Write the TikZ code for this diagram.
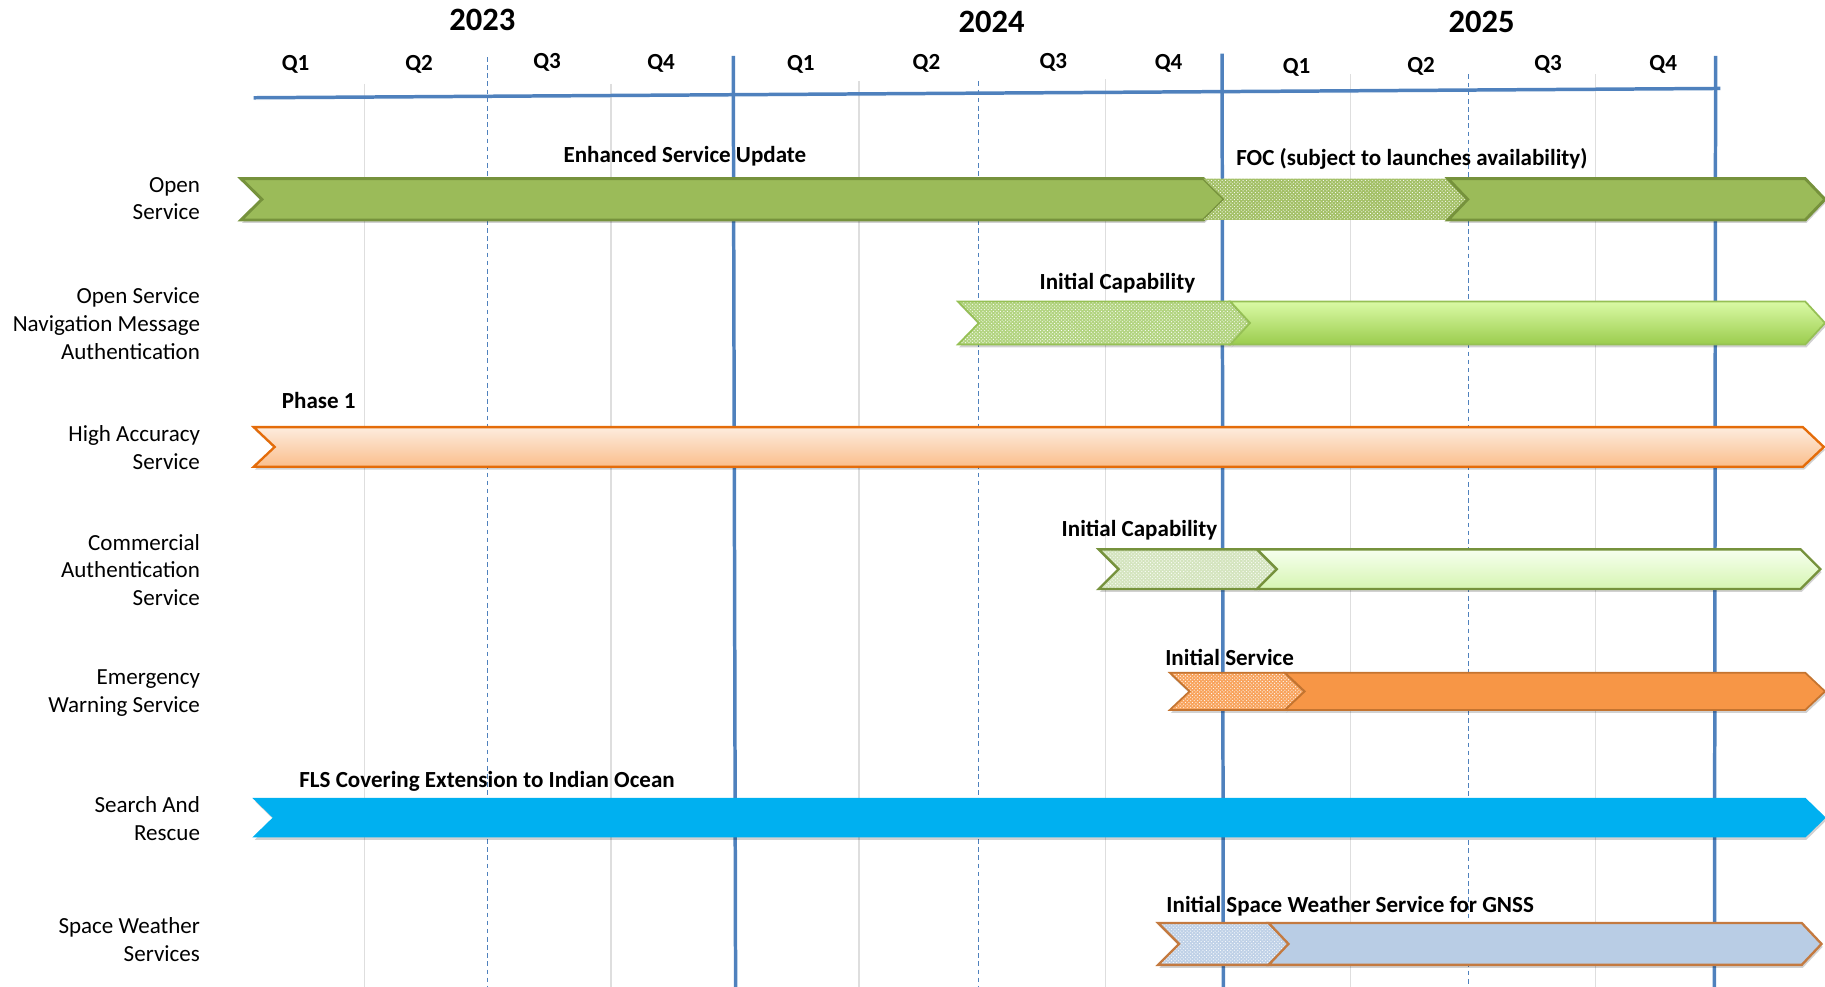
\documentclass[tikz,border=0pt]{standalone}
\usepackage{fontspec}
\setmainfont{Carlito}
\usetikzlibrary{patterns,shadows}

\definecolor{axisblue}{RGB}{79,129,189}
\definecolor{gridgray}{RGB}{222,222,222}
\definecolor{osgreen}{RGB}{155,187,89}
\definecolor{osdark}{RGB}{118,146,60}
\definecolor{nmatop}{RGB}{218,250,165}
\definecolor{nmabot}{RGB}{155,204,78}
\definecolor{nmaline}{RGB}{150,192,85}
\definecolor{nmadots}{RGB}{178,212,128}
\definecolor{hastop}{RGB}{253,236,222}
\definecolor{hasbot}{RGB}{250,190,140}
\definecolor{hasline}{RGB}{228,108,10}
\definecolor{castop}{RGB}{246,255,238}
\definecolor{casbot}{RGB}{214,245,178}
\definecolor{casdots}{RGB}{212,228,190}
\definecolor{ewsfill}{RGB}{247,150,70}
\definecolor{ewsline}{RGB}{196,116,48}
\definecolor{sarfill}{RGB}{0,176,240}
\definecolor{swfill}{RGB}{185,205,229}
\definecolor{swline}{RGB}{196,122,64}

% chevron-shaped bar: [style]{left x}{right x}{top y}{bottom y}{tip depth}
\newcommand{\chevbar}[6][]{%
  \path[#1] (#2,#4) -- (#3,#4) -- ({#3+#6},{(#4+#5)/2}) -- (#3,#5)
    -- (#2,#5) -- ({#2+#6},{(#4+#5)/2}) -- cycle;}

\tikzset{
  txt/.style={font=\fontsize{19.8}{23.7}\selectfont, inner sep=0pt,
    text height=0.68em, text depth=0.18em},
  rowlbl/.style={txt, align=right, anchor=east},
  barlbl/.style={txt, font=\fontsize{19.8}{23.7}\selectfont\bfseries, anchor=west},
  qlbl/.style={txt, font=\fontsize{19.8}{23.7}\selectfont\bfseries},
  yearlbl/.style={txt, font=\fontsize{28}{32}\selectfont\bfseries},
  yearline/.style={draw=axisblue, line width=3pt},
  quarterline/.style={draw=gridgray, line width=1pt},
  halfline/.style={draw=axisblue, line width=0.8pt, dash pattern=on 4pt off 3pt},
  barshadow/.style={drop shadow={shadow xshift=1pt, shadow yshift=-2.5pt,
    opacity=0.18, fill=black}},
  dotted fill/.style={preaction={fill=#1}, pattern=crosshatch dots,
    pattern color=white},
  osbar/.style={barshadow, fill=osgreen, draw=osdark, line width=2.5pt,
    line join=miter},
  oshatch/.style={dotted fill=osgreen!92!white},
  nmabar/.style={barshadow, top color=nmatop, bottom color=nmabot,
    draw=nmaline, line width=1.5pt},
  nmahatch/.style={barshadow, dotted fill=nmadots, draw=nmaline,
    line width=1.5pt},
  hasbar/.style={barshadow, top color=hastop, bottom color=hasbot,
    draw=hasline, line width=2pt},
  casbar/.style={barshadow, top color=castop, bottom color=casbot,
    draw=osdark, line width=2pt},
  cashatch/.style={barshadow, dotted fill=casdots, draw=osdark,
    line width=2pt},
  ewsbar/.style={barshadow, fill=ewsfill, draw=ewsline, line width=1.5pt},
  ewshatch/.style={barshadow, dotted fill=ewsfill!88!white, draw=ewsline,
    line width=1.5pt},
  sarbar/.style={barshadow, fill=sarfill, draw=sarfill, line width=1pt},
  swbar/.style={barshadow, fill=swfill, draw=swline, line width=2pt},
  swhatch/.style={barshadow, dotted fill=swfill!92!white, draw=swline,
    line width=2pt},
}

\begin{document}
\begin{tikzpicture}[x=1pt, y=-1pt]
\useasboundingbox (0,0) rectangle (1568,848);

% quarter grid
\foreach \gx/\gy in {313/72, 525/72, 738/70, 950/68, 1160/64, 1371/64}
  \draw[quarterline] (\gx,\gy) -- (\gx,848);
% mid-year dashed lines
\foreach \gx/\gy in {419/49, 841/70, 1262/64}
  \draw[halfline] (\gx,\gy) -- (\gx,848);
% year boundaries
\draw[yearline] (630,48) -- (632,848);
\draw[yearline] (1050,46) -- (1051,848);
\draw[yearline] (1474,48) -- (1473,848);
% time axis
\draw[yearline, drop shadow={shadow xshift=1pt, shadow yshift=-2pt, opacity=0.15}]
  (218,84) -- (1478,76);

% years
\node[yearlbl] (y23) at (414.5,24) {2023};
\node[yearlbl] (y24) at (852,25) {2024};
\node[yearlbl] (y25) at (1273,25) {2025};

% quarters
\node[qlbl] (q231) at (254,58) {Q1};
\node[qlbl] (q232) at (360,58) {Q2};
\node[qlbl] (q233) at (470,56) {Q3};
\node[qlbl] (q234) at (568,57) {Q4};
\node[qlbl] (q241) at (688,58) {Q1};
\node[qlbl] (q242) at (796,57) {Q2};
\node[qlbl] (q243) at (905,56) {Q3};
\node[qlbl] (q244) at (1004,57) {Q4};
\node[qlbl] (q251) at (1114,61) {Q1};
\node[qlbl] (q252) at (1221,60) {Q2};
\node[qlbl] (q253) at (1330,58) {Q3};
\node[qlbl] (q254) at (1429,58) {Q4};

% row labels
\node[rowlbl] (r1) at (172,186.5) {Open\\Service};
\node[rowlbl] (r2) at (172,306) {Open Service\\Navigation Message\\Authentication};
\node[rowlbl] (r3) at (172,400.5) {High Accuracy\\Service};
\node[rowlbl] (r4) at (172,517.5) {Commercial\\Authentication\\Service};
\node[rowlbl] (r5) at (172,609.5) {Emergency\\Warning Service};
\node[rowlbl] (r6) at (172,719.5) {Search And\\Rescue};
\node[rowlbl] (r7) at (172,823.5) {Space Weather\\Services};

% Open Service
\chevbar[osbar]{207}{1034}{153.5}{189}{18}
\chevbar[oshatch]{1034}{1244}{153.5}{189}{18}
\chevbar[osbar]{1244}{1551}{153.5}{189}{17}
% OS navigation message authentication
\chevbar[nmahatch]{823}{1057}{259}{296}{18}
\chevbar[nmabar]{1057}{1551}{259}{296}{17}
% High accuracy service
\chevbar[hasbar]{218}{1549}{367}{401}{18}
% Commercial authentication service
\chevbar[cashatch]{944}{1080}{472}{506}{17}
\chevbar[casbar]{1080}{1547}{472}{506}{17}
% Emergency warning service
\chevbar[ewshatch]{1005}{1104}{578}{610}{17}
\chevbar[ewsbar]{1104}{1551}{578}{610}{17}
% Search and rescue
\chevbar[sarbar]{218}{1551}{686}{719}{17}
% Space weather
\chevbar[swhatch]{995}{1090}{793}{829}{18}
\chevbar[swbar]{1090}{1548}{793}{829}{17}

% milestone captions
\node[barlbl] (t1) at (484,137.5) {Enhanced Service Update};
\node[barlbl] (t2) at (1062,139.5) {FOC (subject to launches availability)};
\node[barlbl] (t3) at (893,246.5) {Initial Capability};
\node[barlbl] (t4) at (242,348.5) {Phase 1};
\node[barlbl] (t5) at (912,458.5) {Initial Capability};
\node[barlbl] (t6) at (1001,569.5) {Initial Service};
\node[barlbl] (t7) at (257,674.5) {FLS Covering Extension to Indian Ocean};
\node[barlbl] (t8) at (1002,781.5) {Initial Space Weather Service for GNSS};
\end{tikzpicture}
\end{document}
